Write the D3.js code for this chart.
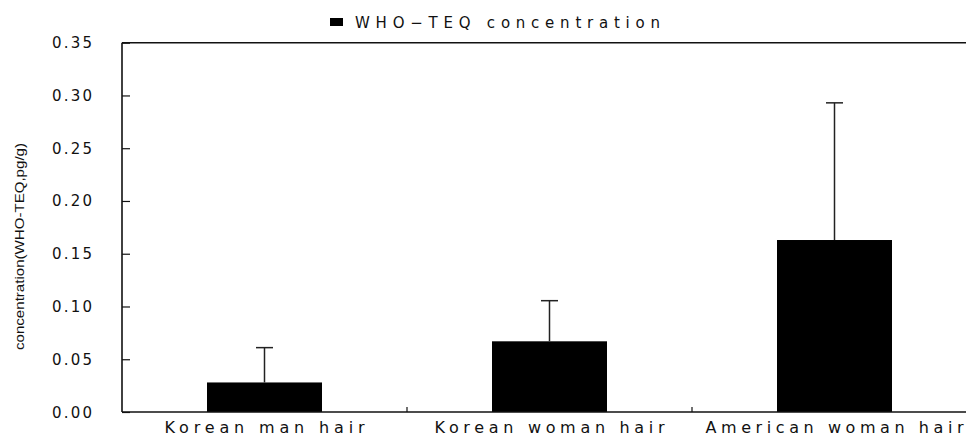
<!DOCTYPE html>
<html><head><meta charset="utf-8">
<script src="https://cdn.jsdelivr.net/npm/d3@7"></script>
<style>body{margin:0;background:#fff}svg{display:block}</style>
</head><body>
<script>
const categories = ["Korean man hair", "Korean woman hair", "American woman hair"];
const means = [0.028, 0.067, 0.163];
const upperErr = [0.061, 0.1055, 0.293];
const yTicks = [0, 0.05, 0.10, 0.15, 0.20, 0.25, 0.30, 0.35];
const seriesName = "WHO\u2212TEQ concentration";
const yTitle = "concentration(WHO-TEQ,pg/g)";

(function(){
const W = 966, H = 438;
const svg = d3.select("body").append("svg").attr("width", W).attr("height", H);
const pLeft = 122, pRight = 977, pTop = 42.7, pBottom = 412;
const font = "'DejaVu Sans', Verdana, sans-serif";

const x = d3.scaleBand().domain(categories).range([pLeft, pRight]).paddingInner(0).paddingOuter(0);
const y = d3.scaleLinear().domain([0, 0.35]).range([pBottom, pTop]);
const barW = 115;

// bars
svg.selectAll("rect.bar").data(categories).enter().append("rect")
  .attr("x", d => x(d) + x.bandwidth()/2 - barW/2)
  .attr("y", (d,i) => y(means[i]))
  .attr("width", barW)
  .attr("height", (d,i) => y(0) - y(means[i]))
  .attr("fill", "#000");

// error bars
const eg = svg.append("g").attr("stroke", "#222").attr("stroke-width", 1.5);
categories.forEach((c,i) => {
  const cx = x(c) + x.bandwidth()/2;
  eg.append("line").attr("x1", cx).attr("x2", cx).attr("y1", y(means[i])).attr("y2", y(upperErr[i]));
  eg.append("line").attr("x1", cx-8.5).attr("x2", cx+8.5).attr("y1", y(upperErr[i])).attr("y2", y(upperErr[i]));
});

// frame
const fg = svg.append("g").attr("stroke", "#111").attr("stroke-width", 1.6).attr("fill", "none");
fg.append("line").attr("x1", pLeft).attr("x2", W).attr("y1", pTop).attr("y2", pTop);
fg.append("line").attr("x1", pLeft).attr("x2", pLeft).attr("y1", pTop).attr("y2", pBottom);
fg.append("line").attr("x1", pLeft).attr("x2", W).attr("y1", pBottom).attr("y2", pBottom);

// y axis ticks inward
const yAxis = d3.axisRight(y).tickValues(yTicks).tickSize(8).tickFormat("");
const ya = svg.append("g").attr("transform", `translate(${pLeft},0)`).call(yAxis);
ya.select(".domain").remove();
ya.selectAll(".tick line").attr("stroke", "#111").attr("stroke-width", 1.2);

// y labels
svg.selectAll("text.yl").data(yTicks).enter().append("text")
  .attr("x", 92).attr("y", d => y(d) + 5.5)
  .attr("text-anchor", "end")
  .attr("font-family", font).attr("font-size", 15)
  .attr("textLength", 40).attr("lengthAdjust", "spacing")
  .attr("fill", "#111")
  .text(d => d3.format(".2f")(d));

// x separators
const seps = categories.slice(1).map(c => x(c));
svg.selectAll("line.sep").data(seps).enter().append("line")
  .attr("x1", d => d).attr("x2", d => d).attr("y1", pBottom).attr("y2", pBottom - 5)
  .attr("stroke", "#111").attr("stroke-width", 1.2);

// x labels
const xLens = [200, 230, 258];
svg.selectAll("text.xl").data(categories).enter().append("text")
  .attr("x", d => x(d) + x.bandwidth()/2).attr("y", 433)
  .attr("text-anchor", "middle")
  .attr("font-family", font).attr("font-size", 16)
  .attr("textLength", (d,i) => xLens[i]).attr("lengthAdjust", "spacing")
  .attr("fill", "#111")
  .text(d => d);

// legend
svg.append("rect").attr("x", 330).attr("y", 18).attr("width", 13).attr("height", 8).attr("fill", "#000");
svg.append("text").attr("x", 355).attr("y", 27.5)
  .attr("font-family", font).attr("font-size", 15)
  .attr("textLength", 305).attr("lengthAdjust", "spacing")
  .attr("fill", "#111").text(seriesName);

// y title
svg.append("text")
  .attr("transform", `translate(24,${(143+350)/2}) rotate(-90)`)
  .attr("text-anchor", "middle")
  .attr("font-family", "'Liberation Sans', Arial, sans-serif").attr("font-size", 13)
  .attr("textLength", 207).attr("lengthAdjust", "spacingAndGlyphs")
  .attr("fill", "#111").text(yTitle);
})();
</script>
</body></html>
